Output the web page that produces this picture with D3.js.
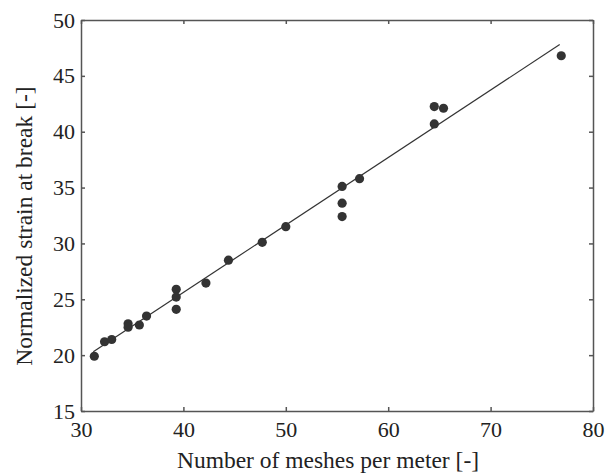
<!DOCTYPE html>
<html>
<head>
<meta charset="utf-8">
<script src="https://cdn.jsdelivr.net/npm/d3@7"></script>
<style>
  body { margin: 0; background: #fff; }
  svg text { font-family: "Liberation Serif", "Times New Roman", serif; fill: #222; }
</style>
</head>
<body>
<div id="chart"></div>
<script>
// measured points
const meshes = [31.3, 32.3, 33.0, 34.6, 34.6, 35.7, 36.4, 39.3, 39.3, 39.3, 42.2, 44.4, 47.7, 50.0,
  55.5, 55.5, 55.5, 57.2, 64.5, 65.4, 64.5, 76.9];
const strain = [19.9, 21.2, 21.4, 22.8, 22.5, 22.7, 23.5, 25.9, 25.2, 24.1, 26.45, 28.5, 30.1, 31.5,
  35.1, 33.6, 32.4, 35.8, 42.25, 42.1, 40.7, 46.8];
// fitted line ends
const fitX = [31.2, 76.75];
const fitY = [20.3, 47.8];
const xTicks = [30, 40, 50, 60, 70, 80];
const yTicks = [15, 20, 25, 30, 35, 40, 45, 50];

const width = 614;
const height = 475;
const margin = { top: 20, left: 81, bottom: 64, right: 21 };
const iwidth = width - margin.left - margin.right;
const iheight = height - margin.top - margin.bottom;

const svg = d3.select("#chart").append("svg")
  .attr("width", width)
  .attr("height", height);

const g = svg.append("g")
  .attr("transform", `translate(${margin.left},${margin.top})`);

const x = d3.scaleLinear().domain([30, 80]).range([0, iwidth]);
const y = d3.scaleLinear().domain([15, 50]).range([iheight, 0]);

const axisColor = "#555";

// axes with inward ticks, all four sides
const axBottom = g.append("g")
  .attr("transform", `translate(0,${iheight})`)
  .call(d3.axisBottom(x).tickValues(xTicks).tickSizeInner(-4).tickSizeOuter(0).tickPadding(10));
const axLeft = g.append("g")
  .call(d3.axisLeft(y).tickValues(yTicks).tickSizeInner(-4).tickSizeOuter(0).tickPadding(6));
const axTop = g.append("g")
  .call(d3.axisTop(x).tickValues(xTicks).tickSizeInner(-4).tickSizeOuter(0).tickFormat(""));
const axRight = g.append("g")
  .attr("transform", `translate(${iwidth},0)`)
  .call(d3.axisRight(y).tickValues(yTicks).tickSizeInner(-4).tickSizeOuter(0).tickFormat(""));

[axBottom, axLeft, axTop, axRight].forEach(a => {
  a.attr("font-family", null);
  a.selectAll("path, line").attr("stroke", axisColor).attr("stroke-width", 1.5);
  a.selectAll("text").attr("font-size", 22).attr("fill", "#222")
    .style("font-family", '"Liberation Serif", serif');
});

// fit line
g.append("line")
  .attr("x1", x(fitX[0])).attr("y1", y(fitY[0]))
  .attr("x2", x(fitX[1])).attr("y2", y(fitY[1]))
  .attr("stroke", "#333")
  .attr("stroke-width", 1.2);

// points
g.selectAll("circle")
  .data(meshes.map((m, i) => ({ m, s: strain[i] })))
  .enter()
  .append("circle")
  .attr("cx", d => x(d.m))
  .attr("cy", d => y(d.s))
  .attr("r", 4.6)
  .attr("fill", "#333");

svg.append("text")
  .attr("x", 328)
  .attr("y", 468)
  .attr("text-anchor", "middle")
  .attr("font-size", 23.5)
  .text("Number of meshes per meter [-]");

svg.append("text")
  .attr("transform", "translate(32,226) rotate(-90)")
  .attr("text-anchor", "middle")
  .attr("font-size", 23.5)
  .text("Normalized strain at break [-]");
</script>
</body>
</html>
